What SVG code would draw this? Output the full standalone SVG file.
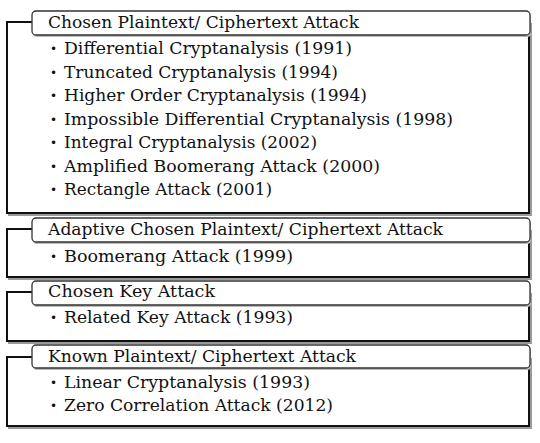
<svg xmlns="http://www.w3.org/2000/svg" width="540" height="443" viewBox="0 0 540 443">
<style>
.box{fill:#fff;stroke:#111;stroke-width:2}
.shadow{fill:none;stroke:#9a9a9a;stroke-width:2}
.tab{fill:#fff;stroke:#333;stroke-width:1.3}
.hd{font-family:"DejaVu Serif","Liberation Serif",serif;font-size:16.5px;fill:#111}
.it{font-family:"DejaVu Serif","Liberation Serif",serif;font-size:16.5px;fill:#111}
.bl{font-family:"DejaVu Sans",sans-serif;font-size:12px;fill:#111}
</style>
<rect width="540" height="443" fill="#fff"/>
<g id="chosen-plaintext">
<rect class="shadow" x="9" y="24" width="522" height="191"/>
<rect class="box" x="7" y="22" width="522" height="191"/>
<rect x="33" y="13" width="498" height="24" rx="4" fill="#bbb"/>
<rect class="tab" x="32" y="11" width="498" height="24" rx="4"/>
<text class="hd" x="48" y="28" textLength="311" lengthAdjust="spacingAndGlyphs">Chosen Plaintext/ Ciphertext Attack</text>
<text class="bl" x="50" y="53">•</text><text class="it" x="64" y="54" textLength="288" lengthAdjust="spacingAndGlyphs">Differential Cryptanalysis (1991)</text>
<text class="bl" x="50" y="77">•</text><text class="it" x="64" y="78" textLength="274" lengthAdjust="spacingAndGlyphs">Truncated Cryptanalysis (1994)</text>
<text class="bl" x="50" y="100">•</text><text class="it" x="64" y="101" textLength="303" lengthAdjust="spacingAndGlyphs">Higher Order Cryptanalysis (1994)</text>
<text class="bl" x="50" y="124">•</text><text class="it" x="64" y="125" textLength="389" lengthAdjust="spacingAndGlyphs">Impossible Differential Cryptanalysis (1998)</text>
<text class="bl" x="50" y="147">•</text><text class="it" x="64" y="148" textLength="253" lengthAdjust="spacingAndGlyphs">Integral Cryptanalysis (2002)</text>
<text class="bl" x="50" y="171">•</text><text class="it" x="64" y="172" textLength="316" lengthAdjust="spacingAndGlyphs">Amplified Boomerang Attack (2000)</text>
<text class="bl" x="50" y="194">•</text><text class="it" x="64" y="195" textLength="208" lengthAdjust="spacingAndGlyphs">Rectangle Attack (2001)</text>
</g>
<g id="adaptive-chosen">
<rect class="shadow" x="9" y="231" width="522" height="48"/>
<rect class="box" x="7" y="229" width="522" height="48"/>
<rect x="33" y="220" width="498" height="24" rx="4" fill="#bbb"/>
<rect class="tab" x="32" y="218" width="498" height="24" rx="4"/>
<text class="hd" x="48" y="235" textLength="395" lengthAdjust="spacingAndGlyphs">Adaptive Chosen Plaintext/ Ciphertext Attack</text>
<text class="bl" x="50" y="261">•</text><text class="it" x="64" y="262" textLength="229" lengthAdjust="spacingAndGlyphs">Boomerang  Attack (1999)</text>
</g>
<g id="chosen-key">
<rect class="shadow" x="9" y="294" width="522" height="49"/>
<rect class="box" x="7" y="292" width="522" height="49"/>
<rect x="33" y="283" width="498" height="24" rx="4" fill="#bbb"/>
<rect class="tab" x="32" y="281" width="498" height="24" rx="4"/>
<text class="hd" x="48" y="297" textLength="167" lengthAdjust="spacingAndGlyphs">Chosen Key Attack</text>
<text class="bl" x="50" y="322">•</text><text class="it" x="64" y="323" textLength="229" lengthAdjust="spacingAndGlyphs">Related Key Attack (1993)</text>
</g>
<g id="known-plaintext">
<rect class="shadow" x="9" y="359" width="522" height="69"/>
<rect class="box" x="7" y="357" width="522" height="69"/>
<rect x="33" y="347" width="498" height="23" rx="4" fill="#bbb"/>
<rect class="tab" x="32" y="345" width="498" height="23" rx="4"/>
<text class="hd" x="48" y="362" textLength="308" lengthAdjust="spacingAndGlyphs">Known Plaintext/ Ciphertext Attack</text>
<text class="bl" x="50" y="387">•</text><text class="it" x="64" y="388" textLength="246" lengthAdjust="spacingAndGlyphs">Linear Cryptanalysis (1993)</text>
<text class="bl" x="50" y="410">•</text><text class="it" x="64" y="411" textLength="269" lengthAdjust="spacingAndGlyphs">Zero Correlation Attack (2012)</text>
</g>
</svg>
